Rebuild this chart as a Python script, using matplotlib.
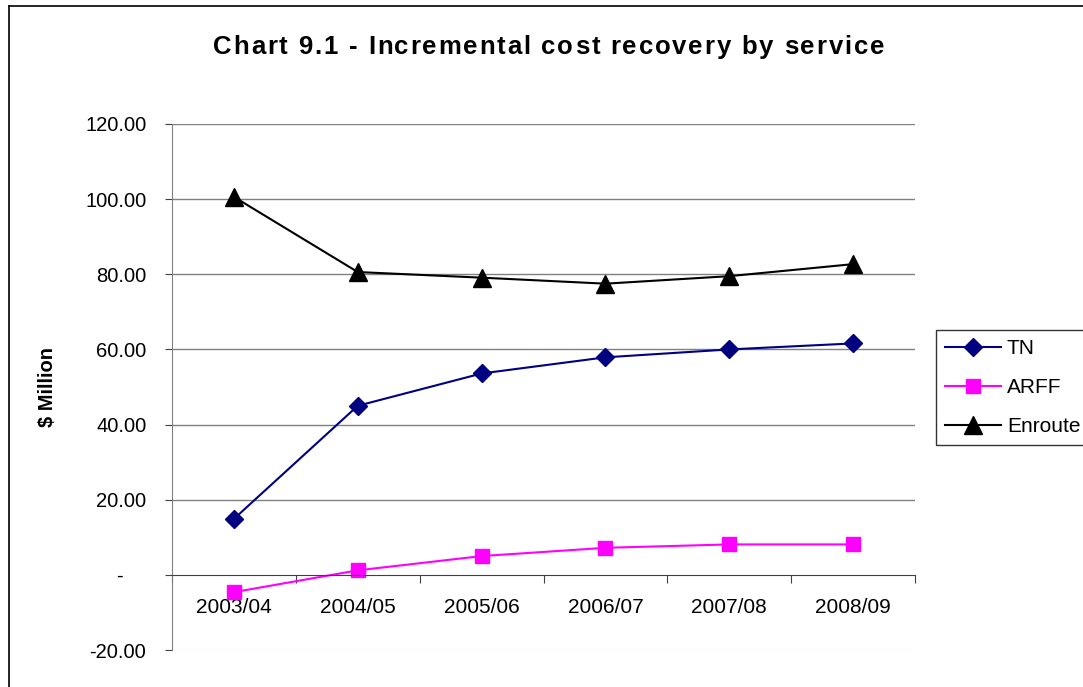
import matplotlib
matplotlib.use("Agg")
import matplotlib.pyplot as plt
from matplotlib.lines import Line2D

plt.rcParams['font.family'] = ['Liberation Sans', 'DejaVu Sans']

# data ($ Million)
years = ["2003/04", "2004/05", "2005/06", "2006/07", "2007/08", "2008/09"]
tn = [14.9, 45.0, 53.6, 57.9, 60.0, 61.6]
arff = [-4.6, 1.2, 5.0, 7.2, 8.1, 8.1]
enroute = [100.6, 80.6, 79.1, 77.5, 79.5, 82.7]

yticks = [-20, 0, 20, 40, 60, 80, 100, 120]
title = "Chart 9.1 - Incremental cost recovery by service"

W, H = 1083, 687
fig = plt.figure(figsize=(W/100, H/100), dpi=100)
ax = fig.add_axes([172/W, 1-650/H, (915-172)/W, (650-124)/H])

x = list(range(len(years)))
ax.plot(x, tn, color="#000080", marker="D", markersize=9, linewidth=1.5, label="TN")
ax.plot(x, arff, color="#FF00FF", marker="s", markersize=9.5, linewidth=1.5, label="ARFF")
ax.plot(x, enroute, color="black", marker="^", markersize=12.5, linewidth=1.5, label="Enroute")

ax.set_xlim(-0.5, len(years)-0.5)
ax.set_ylim(-20, 120)

# gridlines
for v in yticks:
    if v > 0:
        ax.axhline(v, color="#808080", linewidth=1.0, zorder=0)
ax.axhline(-20, color="#eeeeee", linewidth=1.0, zorder=0)

ax.spines['top'].set_visible(False)
ax.spines['right'].set_visible(False)
ax.spines['bottom'].set_position(('data', 0))
ax.spines['bottom'].set_color("#404040")
ax.spines['left'].set_color("#808080")

# y ticks in accounting style
ax.set_yticks(yticks)
ax.set_yticklabels(["-    " if v == 0 else "%.2f" % v for v in yticks], fontsize=14.5)
ax.tick_params(axis='y', length=5, color="#404040", pad=13.5)

# x ticks between categories, labels centred
ax.set_xticks([i-0.5 for i in range(len(years)+1)])
ax.set_xticklabels([])
ax.set_xticks(x, minor=True)
ax.set_xticklabels(years, minor=True, fontsize=15)
ax.tick_params(axis='x', which='major', length=6, direction='out', color="#404040")
ax.tick_params(axis='x', which='minor', length=0, pad=17)

ax.text((47-172)/743, 0.5, "$ Million", transform=ax.transAxes, rotation=90,
        ha="center", va="center", fontsize=14.5, fontweight="bold")

# title with letter spacing, spread from x=213 to x=884
renderer = fig.canvas.get_renderer()
tsize = 18.5
probe = fig.text(0, 0, "", fontsize=tsize, fontweight="bold")
def prefix_w(s):
    probe.set_text(s + "|")
    w = probe.get_window_extent(renderer).width
    probe.set_text("|")
    return w - probe.get_window_extent(renderer).width
full = prefix_w(title)
gap = (884 - 213 - full) / (len(title) - 1)
for i, ch in enumerate(title):
    if ch == " ":
        continue
    px = 213 + prefix_w(title[:i]) + i*gap
    fig.text(px/W, 1-54/H, ch, ha="left", va="baseline", fontsize=tsize, fontweight="bold")
probe.remove()

leg = ax.legend(loc="upper left", bbox_to_anchor=(936/W, 1-330/H),
                bbox_transform=fig.transFigure, fontsize=15, frameon=True,
                fancybox=False, edgecolor="black", borderpad=0.45, borderaxespad=0,
                labelspacing=0.95, handlelength=2.65, handletextpad=0.3)
leg.get_frame().set_linewidth(1.0)

# outer chart border
fig.add_artist(Line2D([9/W, 9/W], [0, 1-6/H], transform=fig.transFigure,
                      color="black", linewidth=1.2))
fig.add_artist(Line2D([9/W, 1], [1-6/H, 1-6/H], transform=fig.transFigure,
                      color="black", linewidth=1.2))

fig.savefig("out.png", dpi=100)
